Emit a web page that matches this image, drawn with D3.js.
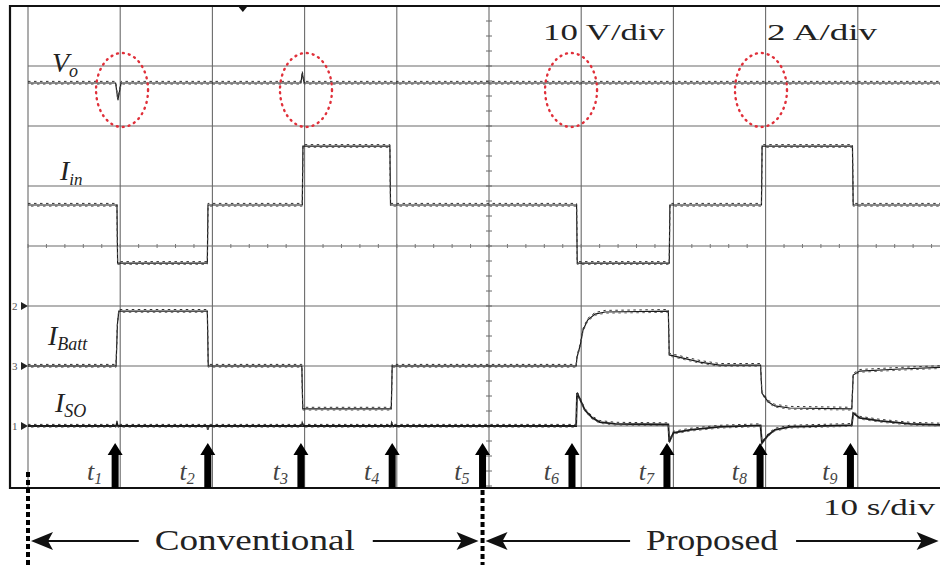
<!DOCTYPE html>
<html>
<head>
<meta charset="utf-8">
<script src="https://cdn.jsdelivr.net/npm/d3@7"></script>
<style>
  body { margin: 0; background: #fff; }
  svg { display: block; }
  text { font-family: "Liberation Serif", "DejaVu Serif", serif; }
</style>
</head>
<body>
<div id="plot_area"></div>
<script>

// ---- data (time in s, values in V or A) ----
var voData = [[0,0],[9.5,0],[9.75,-2.8],[10.1,0],[29.6,0],[29.75,1.7],[29.95,0],[100,0]];

var iinData = [[0,2],[9.65,2],[9.72,0.06],[19.45,0.06],[19.52,2],[29.75,2],[29.82,3.96],
  [39.25,3.96],[39.32,2],[59.5,2],[59.57,0.06],[69.55,0.06],[69.62,2],
  [79.55,2],[79.62,3.96],[89.42,3.96],[89.5,2],[100,2]];

var ibattData = [[0,0],[9.55,0],[9.7,1.4],[9.85,1.83],[19.45,1.83],[19.55,0],[29.7,0],[29.8,-1.43],
  [39.4,-1.43],[39.5,0],[59.45,0],[59.55,0.3],[59.9,0.7],[60.2,1.2],[60.7,1.53],[61.5,1.73],
  [62.6,1.8],[69.45,1.83],[69.55,0.37],[72.9,0.13],[75,0.03],[79.45,0.03],[79.6,-0.9],
  [80.3,-1.2],[81,-1.33],[82.6,-1.4],[89.35,-1.43],[89.5,-0.3],[90.2,-0.17],[94.6,-0.1],[100,-0.03]];

var isoData = [[0,0],[9.55,0],[9.65,0.1],[9.75,0],[19.45,0],[19.5,-0.12],[19.6,0],[29.7,0],[29.75,0.08],
  [29.85,0],[39.4,0],[39.45,0.08],[39.55,0],[59.45,0],[59.55,1.1],[59.9,0.87],[60.4,0.53],
  [61.2,0.27],[62,0.13],[63.7,0.07],[69.45,0.05],[69.55,-0.53],[70,-0.23],[71.8,-0.13],[75,-0.03],
  [79.45,0.02],[79.6,-0.57],[80.3,-0.3],[81,-0.13],[82.6,-0.03],[89.35,0.03],[89.5,0.43],
  [90.2,0.27],[92.4,0.17],[95.7,0.07],[100,0.03]];

// channel ground level (div from centre) and scale per div
var channelZero = { vo: 2.717, iin: -0.317, ibatt: -2, iso: -3 };
var channelPerDiv = { vo: 10, iin: 2, ibatt: 2, iso: 2 };

// event arrows t1..t9
var eventTimes = [9.45, 19.5, 29.6, 39.5, 49.3, 59.0, 69.3, 79.4, 89.2];
var eventLabels = ["1","2","3","4","5","6","7","8","9"];

// highlighted Vo transients (time, div)
var ringTimes = [10.2, 30.15, 58.9, 79.5];
var ringLevel = 2.6;

// mode spans along time axis
var spanNames = ["Conventional", "Proposed"];
var spanStart = [0, 49.3];
var spanEnd = [49.3, 99.2];

var width = 940, height = 565;

var svg = d3.select("#plot_area")
  .append("svg")
    .attr("width", width)
    .attr("height", height)

// time axis 10 s/div, 10 div ; vertical 8 div
var x = d3.scaleLinear().domain([0, 100]).range([28, 950])
var y = d3.scaleLinear().domain([-4, 4]).range([486, 6])

function yOf(ch, v) { return y(channelZero[ch] + v / channelPerDiv[ch]); }

// grid
var grid = svg.append("g")
grid.selectAll(".vline")
  .data(d3.range(0, 100, 10))
  .enter().append("line")
    .attr("x1", function(d){ return x(d) }).attr("x2", function(d){ return x(d) })
    .attr("y1", y(4)).attr("y2", 488)
    .attr("stroke", "#6a6a6a").attr("stroke-width", 1.1)
grid.selectAll(".hline")
  .data(d3.range(-3, 4, 1))
  .enter().append("line")
    .attr("x1", x(0)).attr("x2", width)
    .attr("y1", function(d){ return y(d) }).attr("y2", function(d){ return y(d) })
    .attr("stroke", "#6a6a6a").attr("stroke-width", 1.1)

// minor ticks on centre lines
grid.selectAll(".vtick")
  .data(d3.range(-4, 4.01, 0.25))
  .enter().append("line")
    .attr("x1", x(50) - 3).attr("x2", x(50) + 3)
    .attr("y1", function(d){ return y(d) }).attr("y2", function(d){ return y(d) })
    .attr("stroke", "#6a6a6a").attr("stroke-width", 1)
grid.selectAll(".htick")
  .data(d3.range(0, 100, 2))
  .enter().append("line")
    .attr("x1", function(d){ return x(d) }).attr("x2", function(d){ return x(d) })
    .attr("y1", y(0) - 2).attr("y2", y(0) + 2)
    .attr("stroke", "#777").attr("stroke-width", 1)

// frame
svg.append("path")
  .attr("d", "M" + width + "," + y(4) + "H10V488H" + width)
  .attr("fill", "none").attr("stroke", "#111").attr("stroke-width", 2.2)

// trigger marker at top
svg.append("path")
  .attr("d", "M" + (x(23.3) - 5) + ",6h10l-5,6z")
  .attr("fill", "#111")

// channel ground markers
var markers = [["2", -1], ["3", -2], ["1", -3]]
markers.forEach(function(m){
  svg.append("text").attr("x", 12).attr("y", y(m[1]) + 4)
    .style("font-size", "11px").style("fill", "#555").text(m[0])
  svg.append("path")
    .attr("d", "M21," + (y(m[1]) - 4) + "l7,4l-7,4z")
    .attr("fill", "#222")
})

// traces
var traces = [["vo", voData, 1.2], ["iin", iinData, 1.2], ["ibatt", ibattData, 1.2], ["iso", isoData, 1.8]]
traces.forEach(function(tr){
  var line = d3.line()
    .x(function(d){ return x(d[0]) })
    .y(function(d){ return yOf(tr[0], d[1]) })
  svg.append("path")
    .attr("d", line(tr[1]))
    .attr("fill", "none").attr("stroke", "#1a1a1a").attr("stroke-width", tr[2])
  // ripple texture above and below the trace
  svg.append("path")
    .attr("d", line(tr[1]))
    .attr("transform", "translate(0,-1.6)")
    .attr("fill", "none").attr("stroke", "#333").attr("stroke-width", 1)
    .attr("stroke-dasharray", "2.5,3.5")
  svg.append("path")
    .attr("d", line(tr[1]))
    .attr("transform", "translate(0,1.2)")
    .attr("fill", "none").attr("stroke", "#555").attr("stroke-width", 0.9)
    .attr("stroke-dasharray", "2.5,3.5").attr("stroke-dashoffset", 3)
})

// red dotted rings
svg.selectAll(".ring")
  .data(ringTimes)
  .enter().append("ellipse")
    .attr("cx", function(d){ return x(d) })
    .attr("cy", y(ringLevel))
    .attr("rx", 26).attr("ry", 37)
    .attr("fill", "none").attr("stroke", "#e0303a").attr("stroke-width", 2.4)
    .attr("stroke-dasharray", "1,5").attr("stroke-linecap", "round")

// trace labels
function subLabel(px, py, main, sub, size, subSize) {
  var t = svg.append("text").attr("x", px).attr("y", py)
    .style("font-style", "italic").style("font-size", size + "px").style("fill", "#222")
  t.append("tspan").text(main)
  t.append("tspan").attr("dy", 5).style("font-size", subSize + "px").text(sub)
}
subLabel(52, 72, "V", "o", 28, 18)
subLabel(60, 180, "I", "in", 28, 17)
subLabel(48, 345, "I", "Batt", 28, 18)
subLabel(55, 412, "I", "SO", 28, 18)

// scale texts
svg.append("text").attr("x", 543).attr("y", 40)
  .attr("textLength", 122).attr("lengthAdjust", "spacingAndGlyphs")
  .style("font-size", "24px").style("fill", "#222").text("10 V/div")
svg.append("text").attr("x", 767).attr("y", 40)
  .attr("textLength", 110).attr("lengthAdjust", "spacingAndGlyphs")
  .style("font-size", "24px").style("fill", "#222").text("2 A/div")
svg.append("text").attr("x", 823).attr("y", 515)
  .attr("textLength", 112).attr("lengthAdjust", "spacingAndGlyphs")
  .style("font-size", "24px").style("fill", "#222").text("10 s/div")

// event arrows
var ev = svg.selectAll(".ev")
  .data(eventTimes)
  .enter().append("g")
    .attr("transform", function(d){ return "translate(" + x(d) + ",0)" })
ev.append("path")
  .attr("d", "M-3.5,488V455H-7.5L0,443L7.5,455H3.5V488Z")
  .attr("fill", "#000")
ev.append("text")
  .attr("x", -13).attr("y", 480)
  .attr("text-anchor", "end")
  .style("font-style", "italic").style("font-size", "26px").style("fill", "#444")
  .each(function(d, i){
    var t = d3.select(this)
    t.append("tspan").text("t")
    t.append("tspan").attr("dy", 4).style("font-size", "16px").text(eventLabels[i])
  })

// dashed boundaries
svg.append("line").attr("x1", x(0)).attr("x2", x(0)).attr("y1", 472).attr("y2", height)
  .attr("stroke", "#000").attr("stroke-width", 4).attr("stroke-dasharray", "5,3")
svg.append("line").attr("x1", x(49.3)).attr("x2", x(49.3)).attr("y1", 490).attr("y2", height)
  .attr("stroke", "#000").attr("stroke-width", 4).attr("stroke-dasharray", "5,3")

// span arrows with labels
var ay = 541
spanNames.forEach(function(name, i){
  var a = x(spanStart[i]) + 3, b = x(spanEnd[i]) - 4
  var mid = (a + b) / 2
  var txt = svg.append("text").attr("x", mid).attr("y", ay + 9)
    .attr("text-anchor", "middle")
    .style("font-size", "29px").style("fill", "#222").text(name)
  var half = i == 0 ? 106 : 72
  txt.attr("textLength", half * 2 - 12).attr("lengthAdjust", "spacingAndGlyphs")
  svg.append("line").attr("x1", a + 10).attr("x2", mid - half - 10).attr("y1", ay).attr("y2", ay)
    .attr("stroke", "#111").attr("stroke-width", 2)
  svg.append("line").attr("x1", mid + half + 12).attr("x2", b - 10).attr("y1", ay).attr("y2", ay)
    .attr("stroke", "#111").attr("stroke-width", 2)
  svg.append("path").attr("d", "M" + a + "," + ay + "l22,-9l-5,9l5,9z").attr("fill", "#111")
  svg.append("path").attr("d", "M" + b + "," + ay + "l-22,-9l5,9l-5,9z").attr("fill", "#111")
})

</script>
</body>
</html>
